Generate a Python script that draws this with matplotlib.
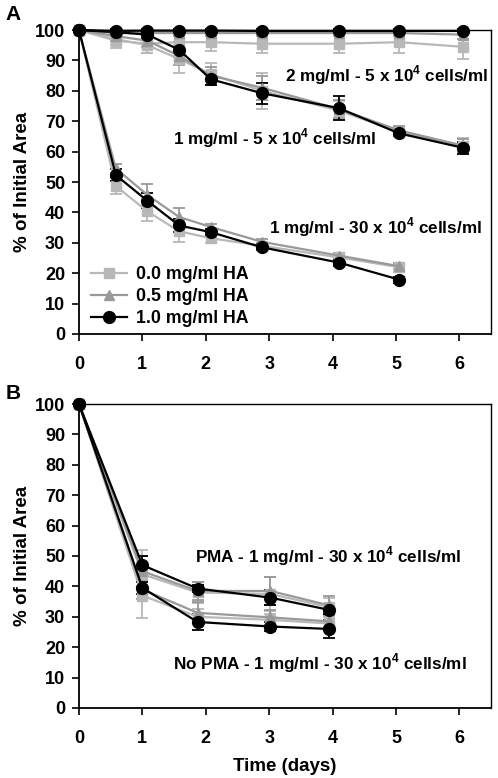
import matplotlib
matplotlib.use("Agg")
import matplotlib.pyplot as plt
from matplotlib.lines import Line2D

plt.rcParams['font.family'] = ['Liberation Sans', 'DejaVu Sans']
plt.rcParams['font.weight'] = 'bold'
plt.rcParams['mathtext.fontset'] = 'custom'
plt.rcParams['mathtext.rm'] = 'Liberation Sans:bold'
plt.rcParams['mathtext.bf'] = 'Liberation Sans:bold'

# --- panel A data (days, % of initial area) ---
days_5e4 = [0, 0.58, 1.08, 1.58, 2.08, 2.89, 4.1, 5.05, 6.05]
days_30e4 = [0, 0.58, 1.08, 1.58, 2.08, 2.89, 4.1, 5.05]

# 2 mg/ml - 5e4 cells/ml
a2_ha00 = [100, 96.5, 95.5, 96.0, 96.0, 95.5, 95.5, 96.0, 94.5]
a2_ha00_err = [0, 2.5, 3.0, 3.0, 3.0, 3.0, 3.0, 3.5, 4.0]
a2_ha05 = [100, 99.0, 99.0, 99.0, 99.0, 99.0, 99.0, 99.0, 98.5]
a2_ha05_err = [0, 1.0, 1.0, 1.0, 1.0, 1.0, 1.0, 1.0, 1.5]
a2_ha10 = [100, 99.7, 99.8, 99.8, 99.8, 99.7, 99.7, 99.7, 99.7]
a2_ha10_err = [0, 0.5, 0.5, 0.5, 0.5, 0.5, 0.5, 0.5, 0.5]

# 1 mg/ml - 5e4 cells/ml
a1_ha00 = [100, 97.0, 95.0, 90.5, 85.5, 80.0, 73.5, 66.5, 62.0]
a1_ha00_err = [0, 2.0, 2.5, 4.5, 3.5, 6.0, 3.0, 1.5, 2.5]
a1_ha05 = [100, 98.0, 96.5, 91.5, 85.0, 81.0, 74.0, 67.0, 62.0]
a1_ha05_err = [0, 1.5, 2.0, 3.0, 3.0, 4.0, 3.0, 1.5, 2.0]
a1_ha10 = [100, 99.3, 98.5, 93.5, 83.8, 79.2, 74.3, 66.0, 61.3]
a1_ha10_err = [0, 1.0, 1.5, 2.5, 2.0, 3.5, 4.0, 1.0, 2.0]

# 1 mg/ml - 30e4 cells/ml
a3_ha00 = [100, 48.7, 40.3, 33.8, 31.5, 29.0, 25.2, 22.0]
a3_ha00_err = [0, 2.5, 3.0, 3.5, 1.5, 1.0, 1.5, 1.5]
a3_ha05 = [100, 54.5, 45.7, 38.5, 35.2, 30.3, 25.8, 22.3]
a3_ha05_err = [0, 1.5, 3.5, 3.0, 1.0, 1.0, 1.0, 1.0]
a3_ha10 = [100, 52.3, 43.8, 35.7, 33.5, 28.5, 23.5, 17.9]
a3_ha10_err = [0, 2.0, 2.5, 2.0, 1.0, 1.0, 1.0, 1.0]

# --- panel B data ---
days_b = [0, 1.0, 1.87, 3.02, 3.94]
pma_ha00 = [100, 44.0, 38.0, 37.5, 33.2]
pma_ha00_err = [0, 8.0, 3.5, 5.5, 3.0]
pma_ha05 = [100, 45.0, 38.5, 38.5, 33.8]
pma_ha05_err = [0, 5.0, 3.0, 4.5, 3.0]
pma_ha10 = [100, 47.0, 39.3, 36.3, 32.3]
pma_ha10_err = [0, 3.0, 1.0, 2.5, 1.5]
nopma_ha00 = [100, 37.0, 30.0, 29.0, 27.8]
nopma_ha00_err = [0, 7.5, 2.5, 2.0, 2.0]
nopma_ha05 = [100, 39.0, 31.3, 29.8, 28.5]
nopma_ha05_err = [0, 3.0, 3.5, 2.5, 2.0]
nopma_ha10 = [100, 39.5, 28.3, 26.8, 26.0]
nopma_ha10_err = [0, 2.0, 2.5, 1.5, 3.0]

legend_labels = ['0.0 mg/ml HA', '0.5 mg/ml HA', '1.0 mg/ml HA']
c_sq = '#b8b8b8'
c_tri = '#999999'
c_blk = '#000000'
styles = [(c_sq, 's', 7), (c_tri, '^', 7.5), (c_blk, 'o', 8.5)]

ANN = 12.3


def draw(ax, x, y, err, style):
    color, marker, ms = style
    ax.errorbar(x, y, yerr=err, color=color, marker=marker, markersize=ms,
                lw=1.6, elinewidth=1.3, capsize=4, capthick=1.3, clip_on=False)


def style_axes(ax):
    ax.set_xlim(0, 6.5)
    ax.set_ylim(0, 100)
    ax.set_xticks(range(0, 7))
    ax.set_yticks(range(0, 101, 10))
    ax.tick_params(axis='x', direction='out', length=5, width=1.2, pad=11, labelsize=13)
    ax.tick_params(axis='y', direction='out', length=5, width=1.2, pad=5, labelsize=13)
    for lab in ax.get_xticklabels() + ax.get_yticklabels():
        lab.set_fontweight('bold')
    for s in ['left', 'bottom']:
        ax.spines[s].set_linewidth(1.3)
    for s in ['top', 'right']:
        ax.spines[s].set_linewidth(1.0)
    ax.set_ylabel('% of Initial Area', fontsize=13.5, fontweight='bold', labelpad=3)


fig = plt.figure(figsize=(4.98, 7.78), dpi=100)
axA = fig.add_axes([0.1586, 0.5707, 0.8274, 0.3907])
axB = fig.add_axes([0.1586, 0.0900, 0.8274, 0.3907])

# panel A
groupsA = [
    (days_5e4, [(a2_ha00, a2_ha00_err), (a2_ha05, a2_ha05_err), (a2_ha10, a2_ha10_err)]),
    (days_5e4, [(a1_ha00, a1_ha00_err), (a1_ha05, a1_ha05_err), (a1_ha10, a1_ha10_err)]),
    (days_30e4, [(a3_ha00, a3_ha00_err), (a3_ha05, a3_ha05_err), (a3_ha10, a3_ha10_err)]),
]
for i in range(3):
    for x, series in groupsA:
        y, e = series[i]
        draw(axA, x, y, e, styles[i])

style_axes(axA)
axA.text(6.45, 85, r'2 mg/ml - 5 x 10$^{4}$ cells/ml', ha='right', va='center',
         fontsize=ANN, fontweight='bold')
axA.text(1.49, 64.5, r'1 mg/ml - 5 x 10$^{4}$ cells/ml', ha='left', va='center',
         fontsize=ANN, fontweight='bold')
axA.text(3.0, 35.2, r'1 mg/ml - 30 x 10$^{4}$ cells/ml', ha='left', va='center',
         fontsize=ANN, fontweight='bold')

handles = [Line2D([], [], color=c, marker=m, markersize=ms, lw=1.6) for c, m, ms in styles]
axA.legend(handles, legend_labels, loc='lower left', bbox_to_anchor=(0.0, -0.018),
           frameon=False, prop={'weight': 'bold', 'size': 12.8}, handlelength=2.0,
           handletextpad=0.5, labelspacing=0.28, borderaxespad=0.3)

# panel B
groupsB = [
    [(pma_ha00, pma_ha00_err), (pma_ha05, pma_ha05_err), (pma_ha10, pma_ha10_err)],
    [(nopma_ha00, nopma_ha00_err), (nopma_ha05, nopma_ha05_err), (nopma_ha10, nopma_ha10_err)],
]
for i in range(3):
    for series in groupsB:
        y, e = series[i]
        draw(axB, days_b, y, e, styles[i])

style_axes(axB)
axB.set_xlabel('Time (days)', fontsize=13.5, fontweight='bold', labelpad=8)
axB.text(1.83, 50, r'PMA - 1 mg/ml - 30 x 10$^{4}$ cells/ml', ha='left', va='center',
         fontsize=ANN, fontweight='bold')
axB.text(1.49, 14.8, r'No PMA - 1 mg/ml - 30 x 10$^{4}$ cells/ml', ha='left', va='center',
         fontsize=ANN, fontweight='bold')

fig.text(0.012, 0.982, 'A', fontsize=15, fontweight='bold', va='center')
fig.text(0.012, 0.494, 'B', fontsize=15, fontweight='bold', va='center')

fig.savefig('out.png', dpi=100)
